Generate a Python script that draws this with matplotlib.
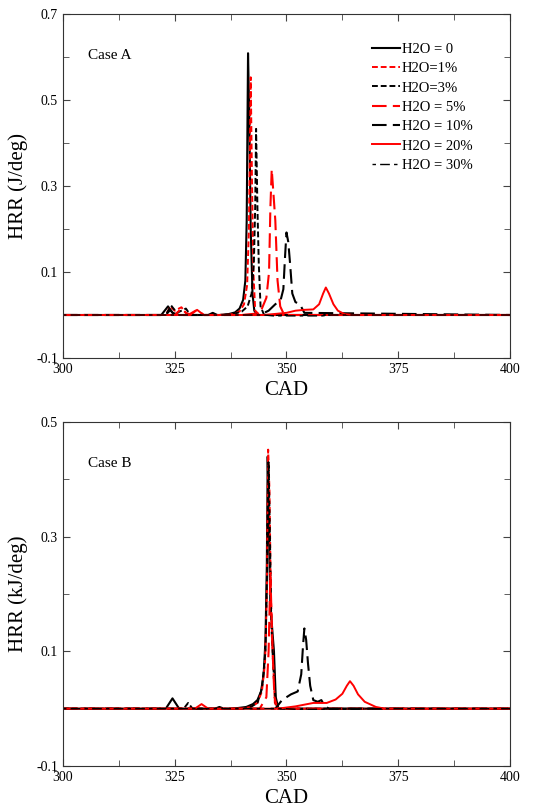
import matplotlib
matplotlib.use('Agg')
import matplotlib.pyplot as plt
from matplotlib.ticker import MultipleLocator

plt.rcParams['font.family'] = ['Liberation Serif', 'DejaVu Serif']

labels = ['H2O = 0', 'H2O=1%', 'H2O=3%', 'H2O = 5%', 'H2O = 10%', 'H2O = 20%', 'H2O = 30%']

# ---- Case A (top) ----
a0_x = [300, 322, 323.5, 324.5, 326, 335, 337, 338.5, 339.5, 340.3, 340.8, 341.1, 341.4, 341.7, 342.0, 342.4, 342.8, 343.5, 400]
a0_y = [0, 0, 0.02, 0.005, 0, 0, 0.002, 0.006, 0.015, 0.035, 0.08, 0.22, 0.609, 0.45, 0.2, 0.05, 0.01, 0, 0]

a1_x = [300, 323, 324, 325, 326.5, 327.5, 329, 335, 338, 339.5, 340.5, 341.2, 341.6, 342.0, 342.3, 342.6, 343, 344, 400]
a1_y = [0, 0, 0.02, 0.01, 0.018, 0.005, 0, 0, 0.002, 0.008, 0.025, 0.07, 0.2, 0.553, 0.3, 0.1, 0.01, 0, 0]

a3_x = [300, 323, 324.2, 325.5, 327.5, 328.5, 335, 338, 340, 341.3, 342.2, 342.7, 343.0, 343.2, 343.5, 343.8, 344.2, 345, 400]
a3_y = [0, 0, 0.022, 0.005, 0.015, 0, 0, 0.002, 0.008, 0.02, 0.05, 0.12, 0.25, 0.433, 0.25, 0.12, 0.02, 0, 0]

a5_x = [300, 325, 326.5, 328, 330, 331.5, 340, 343, 344.5, 345.5, 346.1, 346.4, 346.7, 347.1, 347.5, 348.0, 348.6, 349.5, 400]
a5_y = [0, 0, 0.015, 0, 0.012, 0, 0, 0.003, 0.015, 0.04, 0.1, 0.25, 0.339, 0.28, 0.22, 0.08, 0.02, 0, 0]

a10_x = [300, 323, 324, 325, 332.5, 333.5, 334.5, 344, 346, 347.5, 348.7, 349.3, 349.7, 350.0, 350.4, 350.8, 351.3, 352, 353, 354, 400]
a10_y = [0, 0, 0.012, 0, 0, 0.005, 0, 0, 0.01, 0.025, 0.035, 0.06, 0.14, 0.192, 0.17, 0.12, 0.05, 0.03, 0.025, 0.005, 0]

a20_x = [300, 328.5, 330, 331.5, 345, 350, 352, 354, 356, 357.3, 358.2, 358.8, 359.5, 360.5, 361.5, 363, 365, 400]
a20_y = [0, 0, 0.012, 0, 0, 0.005, 0.01, 0.012, 0.013, 0.025, 0.05, 0.064, 0.05, 0.025, 0.01, 0.002, 0, 0]

a30_x = [300, 345, 347, 358, 360, 400]
a30_y = [0, 0, -0.002, -0.002, 0, 0]

# ---- Case B (bottom) ----
b0_x = [300, 323, 324.5, 326, 338, 341, 342.5, 343.5, 344.3, 344.9, 345.3, 345.6, 345.8, 346.1, 346.4, 346.8, 347.2, 347.6, 348.2, 400]
b0_y = [0, 0, 0.018, 0, 0, 0.003, 0.008, 0.015, 0.03, 0.06, 0.12, 0.25, 0.44, 0.3, 0.18, 0.14, 0.1, 0.02, 0, 0]

b1_x = [300, 340, 342, 343.5, 344.5, 345.2, 345.6, 345.9, 346.2, 346.5, 346.9, 347.4, 348, 400]
b1_y = [0, 0, 0.003, 0.01, 0.03, 0.08, 0.2, 0.452, 0.38, 0.2, 0.1, 0.01, 0, 0]

b3_x = [300, 327, 328, 329, 340, 342, 343.5, 344.5, 345.3, 345.7, 346.0, 346.3, 346.6, 347, 347.6, 348.2, 400]
b3_y = [0, 0, 0.01, 0, 0, 0.003, 0.01, 0.035, 0.1, 0.25, 0.43, 0.3, 0.15, 0.08, 0.01, 0, 0]

b5_x = [300, 344, 345.5, 346.0, 346.4, 346.8, 347.3, 348, 400]
b5_y = [0, 0, 0.02, 0.1, 0.237, 0.12, 0.02, 0, 0]

b10_x = [300, 334, 335, 336, 347.5, 349, 351, 352.5, 353.3, 353.7, 354.0, 354.4, 354.8, 355.3, 356, 357, 357.8, 358.5, 359.5, 400]
b10_y = [0, 0, 0.003, 0, 0, 0.015, 0.025, 0.03, 0.06, 0.11, 0.14, 0.12, 0.08, 0.04, 0.015, 0.012, 0.015, 0.005, 0, 0]

b20_x = [300, 329.5, 331, 332.5, 348, 352, 356, 359, 361, 362.5, 363.5, 364.2, 365, 366, 367.5, 370, 372, 400]
b20_y = [0, 0, 0.008, 0, 0, 0.004, 0.01, 0.01, 0.016, 0.026, 0.04, 0.048, 0.04, 0.025, 0.012, 0.003, 0, 0]

b30_x = [300, 350, 352, 366, 368, 400]
b30_y = [0, 0, -0.001, -0.001, 0, 0]

styles = [
    dict(color='black', ls='-', lw=1.5),
    dict(color='red', ls=(0, (3, 1.5)), lw=1.4),
    dict(color='black', ls=(0, (3, 1.5)), lw=1.4),
    dict(color='red', ls=(0, (7, 3)), lw=1.5),
    dict(color='black', ls=(0, (7, 3)), lw=1.5),
    dict(color='red', ls='-', lw=1.4),
    dict(color='black', ls=(0, (2.5, 3, 7, 3)), lw=1.0),
]

fig = plt.figure(figsize=(5.38, 8.11), dpi=100)
ax1 = fig.add_axes([0.117, 0.5586, 0.831, 0.424])
ax2 = fig.add_axes([0.117, 0.0555, 0.831, 0.424])

top = [(a0_x, a0_y), (a1_x, a1_y), (a3_x, a3_y), (a5_x, a5_y), (a10_x, a10_y), (a20_x, a20_y), (a30_x, a30_y)]
bot = [(b0_x, b0_y), (b1_x, b1_y), (b3_x, b3_y), (b5_x, b5_y), (b10_x, b10_y), (b20_x, b20_y), (b30_x, b30_y)]

for (x, y), st, lab in zip(top, styles, labels):
    ax1.plot(x, y, label=lab, **st)
for (x, y), st in zip(bot, styles):
    ax2.plot(x, y, **st)

for ax, ylim, lab, case in [(ax1, (-0.1, 0.7), 'HRR (J/deg)', 'Case A'),
                            (ax2, (-0.1, 0.5), 'HRR (kJ/deg)', 'Case B')]:
    ax.set_xlim(300, 400)
    ax.set_ylim(*ylim)
    ax.xaxis.set_major_locator(MultipleLocator(25))
    ax.xaxis.set_minor_locator(MultipleLocator(12.5))
    ax.yaxis.set_minor_locator(MultipleLocator(0.1))
    n = int(round((ylim[1] - ylim[0]) / 0.2)) + 1
    ticks = [round(ylim[0] + 0.2 * i, 1) for i in range(n)]
    ax.set_yticks(ticks)
    ax.set_yticklabels(['%g' % t for t in ticks])
    ax.tick_params(which='both', direction='in', top=True, right=True, labelsize=10, color='#444444')
    ax.tick_params(which='major', length=5)
    ax.tick_params(which='minor', length=4)
    ax.set_xlabel('CAD', fontsize=15, labelpad=4)
    ax.set_ylabel(lab, fontsize=15, labelpad=6)
    for s in ax.spines.values():
        s.set_color('#333333')
    ax.text(0.055, 0.87, case, transform=ax.transAxes, fontsize=11)

ax1.legend(loc='upper right', bbox_to_anchor=(0.945, 0.955), frameon=False, fontsize=10.5,
           handlelength=1.9, handletextpad=0.1, labelspacing=0.42)

fig.savefig('out.png', dpi=100)
